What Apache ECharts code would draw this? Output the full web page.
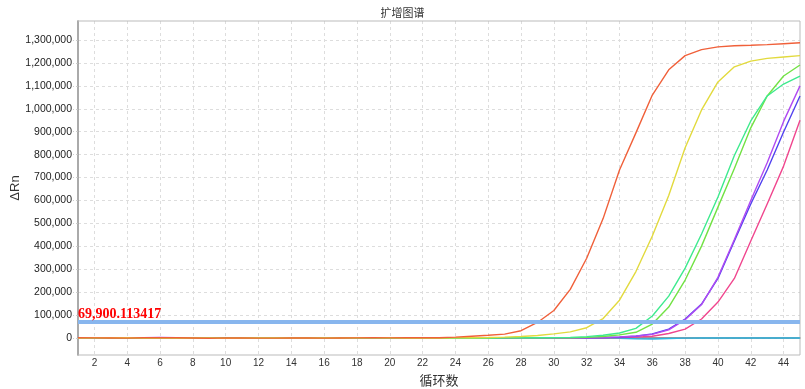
<!DOCTYPE html>
<html>
<head>
<meta charset="utf-8">
<script src="https://cdn.jsdelivr.net/npm/echarts@6/dist/echarts.min.js"></script>
<style>html,body{margin:0;padding:0;background:#fff}#c{width:805px;height:389px}</style>
</head>
<body>
<div id="c"></div>
<script>
const title = '扩增图谱';
const xName = '循环数';
const yName = 'ΔRn';
const cycles = Array.from({length: 45}, (_, i) => String(i + 1));
const threshold = 69900.113417;
const yTickMax = 1300000;
const yTickStep = 100000;

const sampleRed = [1000,500,0,-500,1500,2000,1000,0,-1000,500,
  0,-500,-500,0,0,-500,0,500,1000,500,
  1000,1000,1500,4000,8000,12000,17000,
  32000,68000,120000,212000,348000,521000,733000,895000,1060000,1170000,1232000,1258000,1270000,1275000,1277000,1280000,1284000,1288000];
const sampleYellow = [0,1000,2000,1000,0,-500,0,500,0,-1000,0,0,0,0,0,0,0,1000,2000,1000,0,-500,0,1000,1500,
  2500,4000,7000,11000,18000,27000,45000,85000,165000,290000,445000,622000,830000,995000,1117000,1183000,1208000,1220000,1226000,1232000];
const sampleTeal = [500,1500,1000,0,-500,0,1000,2000,1000,1500,2000,0,0,0,0,0,0,-500,0,-1000,0,500,0,-500,0,0,500,1000,1500,2000,
  3000,6000,12000,22000,42000,96000,183000,305000,454000,615000,796000,947000,1056000,1108000,1143000];
const sampleGreen = [1500,1000,0,-500,0,500,0,-500,0,0,500,0,0,0,0,0,0,1500,2000,0,-1000,-1500,-1000,0,0,0,500,500,1000,1000,
  1500,3000,7000,14000,25000,61000,135000,253000,401000,571000,740000,917000,1056000,1143000,1191000];
const sampleViolet = [0,500,1000,500,1500,2500,2000,500,0,0,0,0,0,0,0,0,0,0,500,1000,500,0,500,0,0,0,0,-1000,-500,0,0,
  1000,2500,5000,9000,16000,36000,80000,146000,265000,430000,600000,765000,945000,1100000];
const sampleBlue = [0,0,500,1000,1000,500,0,0,0,0,0,0,0,0,0,0,0,0,1000,2000,2000,1000,500,0,0,0,0,0,0,0,500,
  1000,2000,4000,8000,18000,39000,83000,148000,260000,423000,585000,733000,899000,1056000];
const samplePink = [0,0,0,500,1000,1500,1000,500,0,0,0,0,0,0,0,0,0,0,0,500,0,0,0,0,0,0,0,0,0,0,0,500,
  1000,2000,4000,8000,20000,39000,83000,157000,260000,423000,585000,750000,950000];
const sampleCyan = [1000,1500,1000,500,0,0,500,1000,1500,2000,1000,0,0,0,0,0,0,-500,-1000,0,500,1000,500,0,0,0,0,0,-500,-500,0,0,-500,
  -1000,-3000,-4000,-2000,-500,0,0,0,0,0,0,0];

const seriesDefs = [
  {name: 'cyan', data: sampleCyan, color: '#2fb4e0'},
  {name: 'pink', data: samplePink, color: '#f0468e'},
  {name: 'blue', data: sampleBlue, color: '#5242ef'},
  {name: 'violet', data: sampleViolet, color: '#b04af2'},
  {name: 'green', data: sampleGreen, color: '#72e244'},
  {name: 'teal', data: sampleTeal, color: '#3eea8e'},
  {name: 'yellow', data: sampleYellow, color: '#e2da3e'},
  {name: 'red', data: sampleRed, color: '#f0603a'}
];

const fmt = v => Number(v).toLocaleString('en-US');
const chart = echarts.init(document.getElementById('c'), null, {renderer: 'canvas'});
const evenIdx = (idx) => (idx + 1) % 2 === 0;

const series = seriesDefs.map(s => ({
  name: s.name, type: 'line', xAxisIndex: 0, yAxisIndex: 0,
  data: s.data, showSymbol: false, symbol: 'none',
  lineStyle: {color: s.color, width: 1.4}, itemStyle: {color: s.color}, z: 3
}));
series.push({
  name: 'threshold', type: 'line', xAxisIndex: 0, yAxisIndex: 0, data: [], z: 10,
  markLine: {
    silent: true, symbol: 'none', animation: false,
    lineStyle: {color: '#88b6ee', width: 4, type: 'solid'},
    label: {
      show: true, position: 'insideStartTop', distance: [0, 1],
      formatter: () => threshold.toLocaleString('en-US', {minimumFractionDigits: 6, maximumFractionDigits: 6}),
      color: '#ff0000', fontFamily: 'Liberation Serif', fontWeight: 'bold', fontSize: 14
    },
    data: [{yAxis: threshold}]
  }
});

chart.setOption({
  animation: false,
  backgroundColor: '#ffffff',
  title: {text: title, left: 'center', top: 2, textStyle: {fontSize: 11, fontWeight: 'normal', color: '#333', fontFamily: 'Noto Sans CJK SC'}},
  grid: [
    {left: 78, right: 5, top: 21, bottom: 34, show: true, borderColor: '#bbbbbb', borderWidth: 1, backgroundColor: 'transparent', z: 1, containLabel: false, outerBoundsMode: 'none'},
    {left: 78, right: 5, top: 40, bottom: 51, show: false, containLabel: false, outerBoundsMode: 'none'}
  ],
  xAxis: [
    {type: 'category', gridIndex: 0, data: cycles, boundaryGap: false,
     name: xName, nameLocation: 'middle', nameGap: 19,
     nameTextStyle: {fontSize: 13, color: '#333', fontFamily: 'Noto Sans CJK SC'},
     axisLine: {lineStyle: {color: '#777', width: 1.5}},
     axisTick: {show: false},
     axisLabel: {interval: evenIdx, fontSize: 10, color: '#333', margin: 3, fontFamily: 'Liberation Sans'},
     splitLine: {show: true, interval: evenIdx, lineStyle: {color: '#dddddd', type: [3, 3], width: 1}}},
    {type: 'category', gridIndex: 1, data: cycles, boundaryGap: false, show: false}
  ],
  yAxis: [
    {type: 'value', gridIndex: 0, min: -74000, max: 1383000,
     name: yName, nameLocation: 'middle', nameGap: 56,
     nameTextStyle: {fontSize: 13, color: '#333', fontFamily: 'Liberation Sans'},
     axisLine: {show: true, lineStyle: {color: '#777', width: 1.5}},
     axisTick: {show: false}, axisLabel: {show: false}, splitLine: {show: false}},
    {type: 'value', gridIndex: 1, min: 0, max: yTickMax, interval: yTickStep,
     axisLine: {show: false},
     axisTick: {show: true, length: 5, lineStyle: {color: '#cccccc', type: [2, 2]}},
     axisLabel: {formatter: fmt, fontSize: 10.5, color: '#222', margin: 6, fontFamily: 'Liberation Sans'},
     splitLine: {show: true, lineStyle: {color: '#dddddd', type: [3, 3], width: 1}}}
  ],
  series: series
});
</script>
</body>
</html>
